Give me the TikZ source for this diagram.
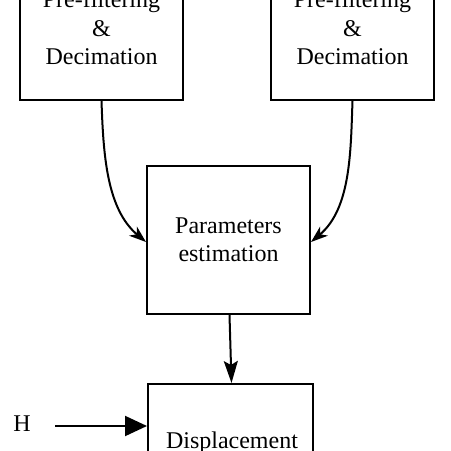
\documentclass[tikz,border=0pt]{standalone}
\usepackage{fontspec}
\setmainfont{Liberation Serif}
\usetikzlibrary{arrows.meta}
\begin{document}
\begin{tikzpicture}[x=1pt,y=-1pt,
  box/.style={draw,line width=2pt,inner sep=0pt,align=center,font=\fontsize{24}{28.5}\selectfont},
  lbl/.style={inner sep=0pt,font=\fontsize{24}{28.5}\selectfont},
  conn/.style={line width=2pt}]
\clip (0,0) rectangle (451,451);
\fill[white] (0,0) rectangle (451,451);
\node[box,minimum width=163pt,minimum height=144pt] (pf1) at (101.5,28) {Pre-filtering\\\&\\Decimation};
\node[box,minimum width=163pt,minimum height=144pt] (pf2) at (352.5,28) {Pre-filtering\\\&\\Decimation};
\node[box,minimum width=163pt,minimum height=148pt] (pe) at (228.5,240) {Parameters\\estimation};
\node[draw,line width=2pt,minimum width=165pt,minimum height=150pt,inner sep=0pt] (dp) at (230.5,459) {};
\node[lbl,anchor=base] (dpt) at (232,448) {Displacement};
\node[lbl] (h) at (22,424) {H};
\coordinate (hs) at (55,426);
\draw[conn,-{Stealth[length=17pt,width=12pt,inset=5pt]}] (pf1.south) to[out=-88,in=140,looseness=0.9] ([yshift=-2pt]pe.west);
\draw[conn,-{Stealth[length=17pt,width=12pt,inset=5pt]}] (pf2.south) to[out=-92,in=40,looseness=0.9] ([yshift=-2pt]pe.east);
\draw[conn,-{Stealth[length=22pt,width=14pt,inset=4pt]}] ([xshift=1pt]pe.south) -- ([xshift=1pt]dp.north);
\draw[conn,-{Triangle[length=22pt,width=20pt]}] (hs) -- (hs -| dp.west);
\end{tikzpicture}
\end{document}
